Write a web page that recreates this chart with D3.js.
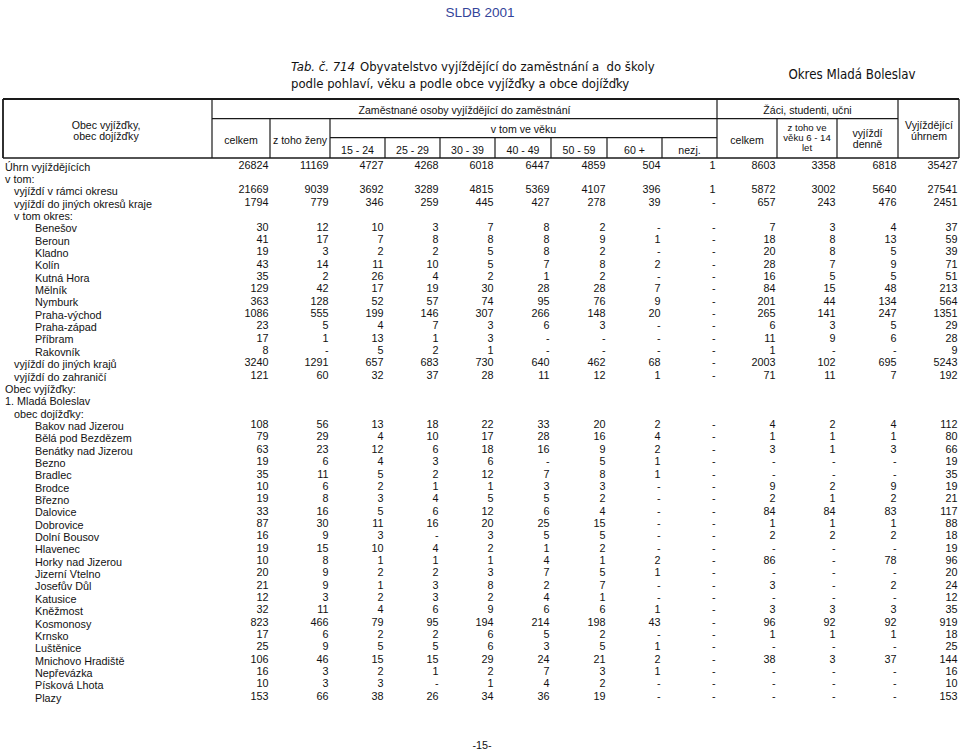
<!DOCTYPE html>
<html><head><meta charset="utf-8">
<script src="https://cdn.jsdelivr.net/npm/d3@7"></script>
<style>body{margin:0;background:#fff} svg{display:block} text{white-space:pre}</style>
</head><body><svg id="c" width="960" height="753"></svg>
<script>
// ---------------- DATA ----------------
const pageHeader = "SLDB 2001";
const tableNo = "Tab. č. 714";
const titleLine1 = "Obyvatelstvo vyjíždějící do zaměstnání a  do školy";
const titleLine2 = "podle pohlaví, věku a podle obce vyjížďky a obce dojížďky";
const regionLabel = "Okres Mladá Boleslav";
const pageNumber = "-15-";

const stubHeader = ["Obec vyjížďky,", "obec dojížďky"];
const employedHeader = "Zaměstnané osoby vyjíždějící do zaměstnání";
const studentsHeader = "Žáci, studenti, učni";
const totalHeader = ["Vyjíždějící", "úhrnem"];
const employedSub = ["celkem", "z toho ženy"];
const ageHeader = "v tom ve věku";
const ageBands = ["15 - 24", "25 - 29", "30 - 39", "40 - 49", "50 - 59", "60 +", "nezj."];
const studentsSub = [["celkem"], ["z toho ve", "věku 6 - 14", "let"], ["vyjíždí", "denně"]];

const categories = [
  "Úhrn vyjíždějících", "v tom:", "vyjíždí v rámci okresu", "vyjíždí do jiných okresů kraje", "v tom okres:",
  "Benešov", "Beroun", "Kladno", "Kolín", "Kutná Hora", "Mělník", "Nymburk", "Praha-východ", "Praha-západ",
  "Příbram", "Rakovník", "vyjíždí do jiných krajů", "vyjíždí do zahraničí", "Obec vyjížďky:",
  "1. Mladá Boleslav", "obec dojížďky:",
  "Bakov nad Jizerou", "Bělá pod Bezdězem", "Benátky nad Jizerou", "Bezno", "Bradlec", "Brodce", "Březno",
  "Dalovice", "Dobrovice", "Dolní Bousov", "Hlavenec", "Horky nad Jizerou", "Jizerní Vtelno", "Josefův Důl",
  "Katusice", "Kněžmost", "Kosmonosy", "Krnsko", "Luštěnice", "Mnichovo Hradiště", "Nepřevázka",
  "Písková Lhota", "Plazy"
];
const levels = [0,0,1,1,1, 2,2,2,2,2,2,2,2,2,2,2, 1,1,0,0,1,
  2,2,2,2,2,2,2,2,2,2,2,2,2,2,2,2,2,2,2,2,2,2,2];

// columns: celkem, ženy, 15-24, 25-29, 30-39, 40-49, 50-59, 60+, nezj., žáci celkem, 6-14, denně, úhrnem
// null = no values in row, 0 = "-"
const cellValues = [
  [26824,11169,4727,4268,6018,6447,4859,504,1,8603,3358,6818,35427],
  null,
  [21669,9039,3692,3289,4815,5369,4107,396,1,5872,3002,5640,27541],
  [1794,779,346,259,445,427,278,39,0,657,243,476,2451],
  null,
  [30,12,10,3,7,8,2,0,0,7,3,4,37],
  [41,17,7,8,8,8,9,1,0,18,8,13,59],
  [19,3,2,2,5,8,2,0,0,20,8,5,39],
  [43,14,11,10,5,7,8,2,0,28,7,9,71],
  [35,2,26,4,2,1,2,0,0,16,5,5,51],
  [129,42,17,19,30,28,28,7,0,84,15,48,213],
  [363,128,52,57,74,95,76,9,0,201,44,134,564],
  [1086,555,199,146,307,266,148,20,0,265,141,247,1351],
  [23,5,4,7,3,6,3,0,0,6,3,5,29],
  [17,1,13,1,3,0,0,0,0,11,9,6,28],
  [8,0,5,2,1,0,0,0,0,1,0,0,9],
  [3240,1291,657,683,730,640,462,68,0,2003,102,695,5243],
  [121,60,32,37,28,11,12,1,0,71,11,7,192],
  null, null, null,
  [108,56,13,18,22,33,20,2,0,4,2,4,112],
  [79,29,4,10,17,28,16,4,0,1,1,1,80],
  [63,23,12,6,18,16,9,2,0,3,1,3,66],
  [19,6,4,3,6,0,5,1,0,0,0,0,19],
  [35,11,5,2,12,7,8,1,0,0,0,0,35],
  [10,6,2,1,1,3,3,0,0,9,2,9,19],
  [19,8,3,4,5,5,2,0,0,2,1,2,21],
  [33,16,5,6,12,6,4,0,0,84,84,83,117],
  [87,30,11,16,20,25,15,0,0,1,1,1,88],
  [16,9,3,0,3,5,5,0,0,2,2,2,18],
  [19,15,10,4,2,1,2,0,0,0,0,0,19],
  [10,8,1,1,1,4,1,2,0,86,0,78,96],
  [20,9,2,2,3,7,5,1,0,0,0,0,20],
  [21,9,1,3,8,2,7,0,0,3,0,2,24],
  [12,3,2,3,2,4,1,0,0,0,0,0,12],
  [32,11,4,6,9,6,6,1,0,3,3,3,35],
  [823,466,79,95,194,214,198,43,0,96,92,92,919],
  [17,6,2,2,6,5,2,0,0,1,1,1,18],
  [25,9,5,5,6,3,5,1,0,0,0,0,25],
  [106,46,15,15,29,24,21,2,0,38,3,37,144],
  [16,3,2,1,2,7,3,1,0,0,0,0,16],
  [10,3,3,0,1,4,2,0,0,0,0,0,10],
  [153,66,38,26,34,36,19,0,0,0,0,0,153]
];

// ---------------- LAYOUT ----------------
const svg = d3.select("#c");
const FONT = "'Liberation Sans', Arial, Helvetica, sans-serif";
const NARROW = "'Liberation Sans Narrow', 'Arial Narrow', 'DejaVu Sans Condensed', sans-serif";
const ink = "#111";
const colEdges = [212,270,330,385,440,495,551,607,662,717,777,837,898,959];
const nCols = 13;
const colRight = d3.scaleOrdinal().domain(d3.range(nCols)).range(colEdges.slice(1).map(e => e - 1.5));
const colCenter = d3.scaleOrdinal().domain(d3.range(nCols)).range(d3.range(nCols).map(i => (colEdges[i] + colEdges[i+1]) / 2));
const rowY = d3.scaleLinear().domain([0, categories.length - 1]).range([166, 697]);
const indent = d3.scaleOrdinal().domain([0,1,2]).range([5, 14, 35]);

// page header
svg.append("text").attr("x", 480).attr("y", 17).attr("text-anchor", "middle")
  .attr("font-family", FONT).attr("font-size", 13.5).attr("fill", "#33449a").text(pageHeader);

// title
const t1 = svg.append("text").attr("x", 291).attr("y", 71).attr("font-family", NARROW).attr("font-size", 13).attr("fill", ink);
t1.append("tspan").attr("font-style", "italic").text(tableNo);
t1.append("tspan").attr("dx", 5).text(titleLine1);
svg.append("text").attr("x", 291).attr("y", 88).attr("font-family", NARROW).attr("font-size", 13).attr("fill", ink).text(titleLine2);
svg.append("text").attr("x", 852).attr("y", 79).attr("text-anchor", "middle").attr("font-family", NARROW)
  .attr("font-size", 13.2).attr("fill", ink).text(regionLabel);

// header lines
const g = svg.append("g").attr("stroke", "#1a1a1a").attr("fill", "none");
const L = (x1,y1,x2,y2,w) => g.append("line").attr("x1",x1).attr("y1",y1).attr("x2",x2).attr("y2",y2).attr("stroke-width", w || 1.2);
const yTop = 99, yMid = 118.7, yAge = 137.7, yBot = 158;
L(3, yTop, 959, yTop, 2);
L(3, yBot, 959, yBot, 1.3);
L(3, yTop, 3, yBot, 1.8);
L(959, yTop, 959, yBot, 1.3);
L(212, yTop, 212, yBot);
L(212, yMid, 898, yMid);
L(270, yMid, 270, yBot); L(330, yMid, 330, yBot);
L(330, yAge, 717, yAge);
[385,440,495,551,607,662].forEach(x => L(x, yAge, x, yBot));
L(717, yTop, 717, yBot);
L(777, yMid, 777, yBot); L(837, yMid, 837, yBot);
L(898, yTop, 898, yBot);

// header text
const hdr = svg.append("g").attr("font-family", FONT).attr("font-size", 10.6).attr("fill", ink).attr("text-anchor", "middle");
const H = (x, y, s, fs) => { const t = hdr.append("text").attr("x", x).attr("y", y).text(s); if (fs) t.attr("font-size", fs); return t; };
H(106, 128.5, stubHeader[0]); H(106, 139.5, stubHeader[1]);
H((212+717)/2, 114, employedHeader);
H((717+898)/2, 114, studentsHeader);
H(929, 129, totalHeader[0]); H(929, 140, totalHeader[1]);
H(colCenter(0), 143.5, employedSub[0]);
H(colCenter(1), 143.5, employedSub[1]);
H((330+717)/2, 133, ageHeader);
ageBands.forEach((a, i) => H(colCenter(i + 2), 154, a));
H(colCenter(9), 143.5, studentsSub[0][0]);
studentsSub[1].forEach((s, i) => H(colCenter(10), 130.5 + i * 10.2, s, 9.6));
studentsSub[2].forEach((s, i) => H(colCenter(11), 137 + i * 11, s));

// body
const body = svg.append("g").attr("font-family", FONT).attr("font-size", 10.8).attr("fill", ink);
body.selectAll("text.lab").data(categories).join("text").attr("class", "lab")
  .attr("x", (d, i) => indent(levels[i])).attr("y", (d, i) => rowY(i) + 4.6).text(d => d);

const cells = [];
cellValues.forEach((row, r) => { if (row) row.forEach((v, c) => cells.push({r, c, v})); });
body.selectAll("text.num").data(cells).join("text").attr("class", "num")
  .attr("text-anchor", "end")
  .attr("x", d => colRight(d.c))
  .attr("y", d => rowY(d.r) + 2.8)
  .text(d => d.v === 0 ? "-" : d.v);

svg.append("text").attr("x", 482).attr("y", 749).attr("text-anchor", "middle")
  .attr("font-family", FONT).attr("font-size", 10.8).attr("fill", ink).text(pageNumber);
</script></body></html>
